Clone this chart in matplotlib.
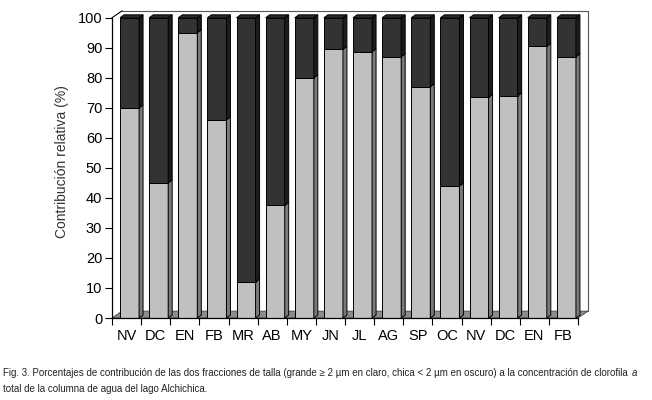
import numpy as np
import matplotlib
matplotlib.use("Agg")
import matplotlib.pyplot as plt
from matplotlib.patches import Polygon, Rectangle

meses = ["NV", "DC", "EN", "FB", "MR", "AB", "MY", "JN", "JL", "AG", "SP", "OC",
         "NV", "DC", "EN", "FB"]
grande = [70, 45, 95, 66, 12, 37.5, 80, 89.5, 88.7, 87, 77, 44, 73.5, 74, 90.5, 87]
chica = [100 - g for g in grande]

LIGHT = "#c0c0c0"
LIGHT_SIDE = "#7a7a7a"
DARK = "#333333"
DARK_SIDE = "#1c1c1c"
DARK_TOP = "#2a2a2a"
FLOOR = "#8c8c8c"

plt.rcParams["font.family"] = ["Liberation Sans", "DejaVu Sans"]

fig = plt.figure(figsize=(6.52, 4.0), dpi=100)
# axes box in pixels: x 112..588, y 5..318
ax = fig.add_axes([112 / 652, (400 - 318) / 400, 476 / 652, 313 / 400])

px_x = 29.125           # pixels per category
px_y = 306 / 100.0      # pixels per percent
xmax = -0.5 + 476 / px_x
ymax = 100 + 13 / px_y
ax.set_xlim(-0.5, xmax)
ax.set_ylim(0, ymax)

# depth of the chart (wall / floor) and of each bar
wdx, wdy = 10 / px_x, 7 / px_y
bdx, bdy = 4 / px_x, 3 / px_y
bw = 19 / px_x
shift = 3 / px_x

n = len(meses)
xr = n - 0.5

# floor
ax.add_patch(Polygon([(-0.5, 0), (xr, 0), (xr + wdx, wdy), (-0.5 + wdx, wdy)],
                     closed=True, facecolor=FLOOR, edgecolor="#404040", lw=0.6,
                     zorder=1, clip_on=False))
# back wall frame
ax.plot([-0.5 + wdx, xr + wdx, xr + wdx], [100 + wdy, 100 + wdy, wdy],
        color="#555555", lw=0.8, zorder=1, clip_on=False)
ax.plot([-0.5, -0.5 + wdx], [100, 100 + wdy], color="black", lw=0.8, zorder=1, clip_on=False)
# left axis
ax.plot([-0.5, -0.5], [0, 100], color="black", lw=0.9, zorder=5, clip_on=False)
ax.plot([-0.5, xr], [0, 0], color="black", lw=0.9, zorder=5, clip_on=False)


def box(x0, y0, h, face, side, top, draw_top):
    x1 = x0 + bw
    ax.add_patch(Rectangle((x0, y0), bw, h, facecolor=face, edgecolor="black",
                           lw=0.7, zorder=3))
    ax.add_patch(Polygon([(x1, y0), (x1 + bdx, y0 + bdy), (x1 + bdx, y0 + h + bdy), (x1, y0 + h)],
                         closed=True, facecolor=side, edgecolor="black", lw=0.7, zorder=3))
    if draw_top:
        ax.add_patch(Polygon([(x0, y0 + h), (x0 + bdx, y0 + h + bdy),
                              (x1 + bdx, y0 + h + bdy), (x1, y0 + h)],
                             closed=True, facecolor=top, edgecolor="black", lw=0.7,
                             zorder=3, clip_on=False))


for i in range(n):
    x0 = i - bw / 2 + shift
    box(x0, 0, grande[i], LIGHT, LIGHT_SIDE, LIGHT, False)
    box(x0, grande[i], chica[i], DARK, DARK_SIDE, DARK_TOP, True)

for s in ax.spines.values():
    s.set_visible(False)

ax.set_yticks(np.arange(0, 101, 10))
ax.tick_params(axis="y", length=5, width=0.8, labelsize=10.5, pad=2)
ax.set_xticks(np.arange(n))
ax.set_xticklabels(meses)
ax.set_xticks(np.arange(-0.5, n, 1.0), minor=True)
ax.tick_params(axis="x", which="major", length=0, labelsize=10.5, pad=8)
ax.tick_params(axis="x", which="minor", length=5, width=0.8)
ax.set_ylabel("Contribución relativa (%)", fontsize=10, color="#333333", labelpad=6)

# caption: shrink the font so that the first line fits the width of the figure
line1 = ("Fig. 3. Porcentajes de contribución de las dos fracciones de talla "
         "(grande ≥ 2 µm en claro, chica < 2 µm en oscuro) a la concentración de clorofila ")
line2 = "total de la columna de agua del lago Alchichica."
cap_fs = 8.0
t1 = fig.text(3 / 652, 1 - 373 / 400, line1, fontsize=cap_fs, va="center", ha="left",
              color="#222222")
fig.canvas.draw()
w = t1.get_window_extent().width
cap_fs = cap_fs * 636 / w
t1.set_fontsize(cap_fs)
fig.text(3 / 652, 1 - 389 / 400, line2, fontsize=cap_fs, va="center", ha="left",
         color="#222222")
fig.canvas.draw()
bb = t1.get_window_extent()
fig.text((bb.x1 + 1) / 652, 1 - 373 / 400, "a", fontsize=cap_fs, style="italic",
         va="center", ha="left", color="#222222")

fig.savefig("out.png", dpi=100)
